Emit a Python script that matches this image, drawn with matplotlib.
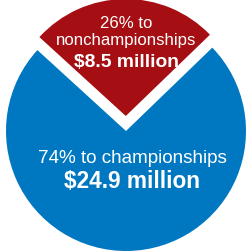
import matplotlib.pyplot as plt

# spending split (percent shares and dollar amounts)
shares = [26, 74]
amounts = ['$8.5 million', '$24.9 million']
labels = ['26% to\nnonchampionships', '74% to championships']
colors = ['#A50E12', '#0078C1']

plt.rcParams['font.family'] = ['Liberation Sans', 'DejaVu Sans']

fig = plt.figure(figsize=(2.48, 2.52), dpi=100)
ax = fig.add_axes([0, 0, 1, 1])

radius = 120
center = (126, 121)
# explode offset is in data units here (pixels)
wedges, _ = ax.pie(shares, colors=colors, startangle=44, counterclock=True,
                   radius=radius, center=center, explode=[15, 0],
                   wedgeprops={'linewidth': 0})
ax.set_xlim(0, 248)
ax.set_ylim(0, 252)
ax.set_aspect('auto')
ax.axis('off')
wedges[0].set_radius(117)

# labels, placed by baseline
top1, top2 = labels[0].split('\n')
ax.text(126, 252 - 28, top1, color='white', fontsize=12.1,
        ha='center', va='baseline')
ax.text(126, 252 - 45, top2, color='white', fontsize=12.1,
        ha='center', va='baseline')
ax.text(126, 252 - 67, amounts[0], color='white', fontsize=13.9,
        fontweight='bold', ha='center', va='baseline')

ax.text(132, 252 - 163, labels[1], color='white', fontsize=13.6,
        ha='center', va='baseline')
ax.text(132, 252 - 188, amounts[1], color='white', fontsize=16.3,
        fontweight='bold', ha='center', va='baseline')

fig.savefig('out.png', dpi=100)
